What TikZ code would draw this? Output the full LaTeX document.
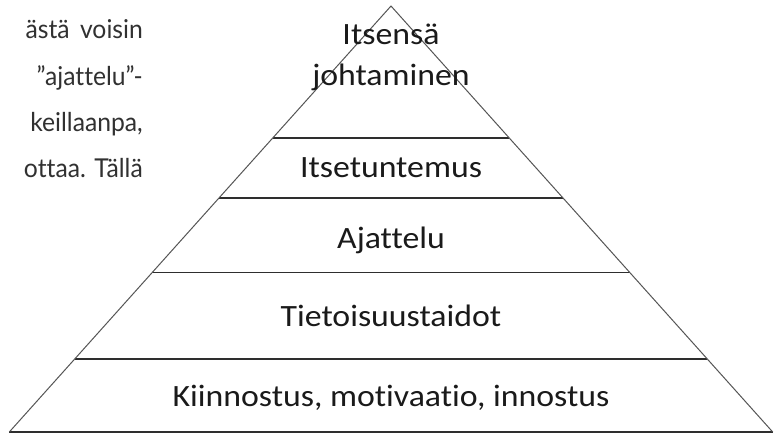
\documentclass[tikz,border=0pt]{standalone}
\usepackage{fontspec}
\setmainfont{Carlito}[FakeStretch=1.09, Ligatures=NoCommon]
\newfontfamily\parafont{Lato}[FakeStretch=0.95, Ligatures=NoCommon]
\usetikzlibrary{calc}
\definecolor{inkdark}{HTML}{1A1A1A}
\definecolor{sidegrey}{HTML}{555555}
\definecolor{bandline}{HTML}{2E2E2E}
\tikzset{
  side/.style={draw=sidegrey, line width=1pt},
  band/.style={draw=bandline, line width=1.6pt},
  level/.style={text=inkdark, inner sep=0pt, anchor=base, align=center,
    font=\fontsize{31}{41}\selectfont},
  paraline/.style={text=inkdark!90, inner sep=0pt, anchor=base east,
    font=\parafont\fontsize{26}{46}\selectfont},
}
\begin{document}
\begin{tikzpicture}[x=1pt, y=-1pt]
  \useasboundingbox (0,0) rectangle (783,434);
  \fill[white] (0,0) rectangle (783,434);

  % triangle corners
  \coordinate (apex) at (391,6);
  \coordinate (bl) at (9.3,432);
  \coordinate (br) at (772.7,432);

  % band boundaries on the two sides
  \coordinate (l1) at ($(apex)!0.3099!(bl)$);
  \coordinate (r1) at ($(apex)!0.3099!(br)$);
  \coordinate (l2) at ($(apex)!0.4500!(bl)$);
  \coordinate (r2) at ($(apex)!0.4500!(br)$);
  \coordinate (l3) at ($(apex)!0.6251!(bl)$);
  \coordinate (r3) at ($(apex)!0.6251!(br)$);
  \coordinate (l4) at ($(apex)!0.8286!(bl)$);
  \coordinate (r4) at ($(apex)!0.8286!(br)$);

  % horizontal dividers and base
  \draw[band] (l1) -- (r1);
  \draw[band] (l2) -- (r2);
  \draw[band] (l3) -- (r3);
  \draw[band] (l4) -- (r4);
  \draw[band] (bl) -- (br);

  % sloping sides
  \draw[side] (bl) -- (apex) -- (br);

  % level labels
  \node[level] (top) at (391,85) {Itsensä\\johtaminen};
  \node[level] (self) at (391,177) {Itsetuntemus};
  \node[level] (think) at (391,248) {Ajattelu};
  \node[level] (aware) at (391,326) {Tietoisuustaidot};
  \node[level] (base) at (391,406) {Kiinnostus, motivaatio, innostus};

  % fragment of the surrounding paragraph
  \node[paraline] (p1) at (143,38.5) {ästä\hspace{0.4em}voisin};
  \node[paraline] (p2) at (143,85) {”ajattelu”-};
  \node[paraline] (p3) at (143,131) {keillaanpa,};
  \node[paraline] (p4) at (143,177) {ottaa. Tällä};
\end{tikzpicture}
\end{document}
